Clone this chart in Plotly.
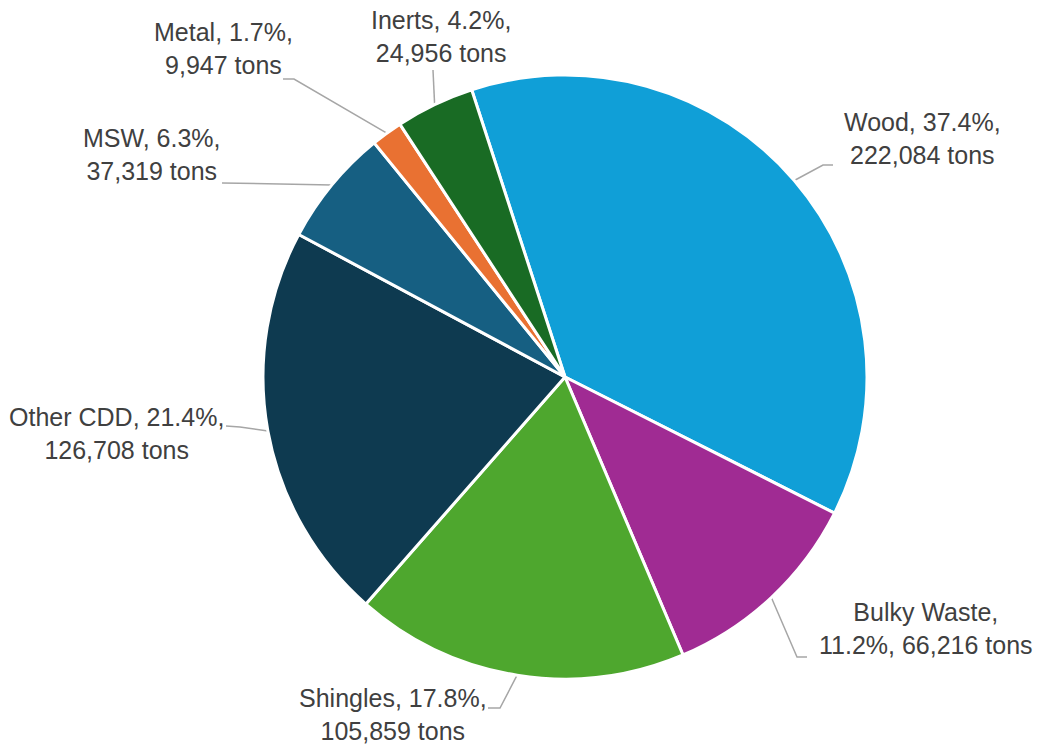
import math
import plotly.graph_objects as go

# ---- data ----
categories = ["Wood", "Bulky Waste", "Shingles", "Other CDD", "MSW", "Metal", "Inerts"]
tons = [222084, 66216, 105859, 126708, 37319, 9947, 24956]
percent_labels = ["37.4%", "11.2%", "17.8%", "21.4%", "6.3%", "1.7%", "4.2%"]
colors = ["#109FD7", "#A02B93", "#4EA72E", "#0E3A50", "#165F82", "#E97132", "#196B24"]

# ---- layout constants ----
W, H = 1043, 744
CX, CY, R = 565, 377, 302
ROTATION = -18.0

# label layout: text centre, elbow point, leader end (pixels)
label_layout = {
    "Wood":        dict(text=(922, 138), fmt="{c}, {p},<br>{t} tons", elbow=(823, 165), end=(833, 165)),
    "Bulky Waste": dict(text=(926, 628), fmt="{c},<br>{p}, {t} tons", elbow=(797, 657), end=(807, 657)),
    "Shingles":    dict(text=(393, 714), fmt="{c}, {p},<br>{t} tons", elbow=(500, 708), end=(488, 708)),
    "Other CDD":   dict(text=(116, 433), fmt="{c}, {p},<br>{t} tons", elbow=(240, 427), end=(226, 426)),
    "MSW":         dict(text=(152, 154), fmt="{c}, {p},<br>{t} tons", elbow=(240, 183), end=(222, 183)),
    "Metal":       dict(text=(223, 48),  fmt="{c}, {p},<br>{t} tons", elbow=(294, 79), end=(283, 79)),
    "Inerts":      dict(text=(441, 36),  fmt="{c}, {p},<br>{t} tons", elbow=(433, 70), end=(433, 70)),
}

fig = go.Figure()

fig.add_trace(go.Pie(
    labels=categories,
    values=tons,
    sort=False,
    direction="clockwise",
    rotation=ROTATION,
    marker=dict(colors=colors, line=dict(color="white", width=3)),
    textinfo="none",
    hoverinfo="label+value+percent",
    showlegend=False,
    domain=dict(x=[(CX - R) / W, (CX + R) / W], y=[(H - CY - R) / H, (H - CY + R) / H]),
))

total = sum(tons)
cum = 0.0
annotations = []
for cat, v, pl in zip(categories, tons, percent_labels):
    mid = math.radians(ROTATION + 360.0 * (cum + v / 2.0) / total)
    cum += v
    sx = CX + R * math.sin(mid)
    sy = CY - R * math.cos(mid)
    lay = label_layout[cat]
    ex, ey = lay["elbow"]
    fx, fy = lay["end"]
    fig.add_trace(go.Scatter(
        x=[sx, ex, fx], y=[sy, ey, fy], mode="lines",
        line=dict(color="#A6A6A6", width=1.5),
        hoverinfo="skip", showlegend=False,
    ))
    tx, ty = lay["text"]
    annotations.append(dict(
        x=tx, y=ty, xref="x", yref="y",
        text=lay["fmt"].format(c=cat, p=pl, t=f"{v:,}"),
        showarrow=False, align="center", xanchor="center", yanchor="middle",
        font=dict(family="Liberation Sans, Arial, sans-serif", size=25, color="#404040"),
    ))

fig.update_layout(
    width=W, height=H,
    margin=dict(l=0, r=0, t=0, b=0),
    paper_bgcolor="white", plot_bgcolor="rgba(0,0,0,0)",
    xaxis=dict(range=[0, W], visible=False, domain=[0, 1], fixedrange=True),
    yaxis=dict(range=[H, 0], visible=False, domain=[0, 1], fixedrange=True),
    annotations=annotations,
)

fig.write_html("out.html")
